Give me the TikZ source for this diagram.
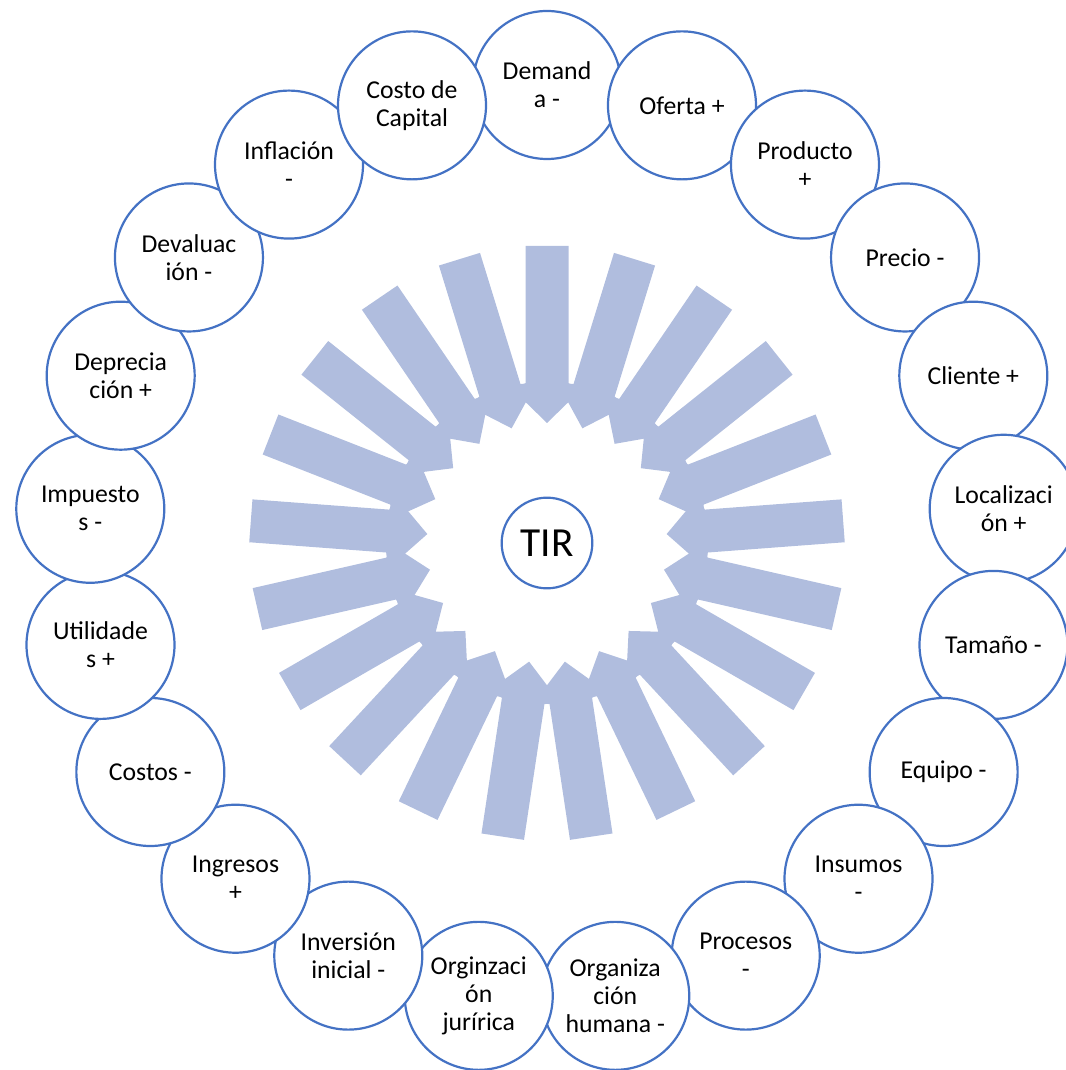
\documentclass[tikz,border=0pt]{standalone}
\usepackage{fontspec}
\setmainfont{Carlito}
\definecolor{ringblue}{RGB}{68,114,196}
\definecolor{arrowfill}{RGB}{176,189,222}
\begin{document}
\begin{tikzpicture}[x=0.75pt,y=0.75pt,
  factor/.style={circle,draw=ringblue,line width=1.65pt,fill=white,
    minimum size=111pt,inner sep=0pt,align=center,
    font=\fontsize{19.3}{21}\selectfont},
  core/.style={circle,draw=ringblue,line width=1.65pt,fill=white,
    minimum size=68pt,inner sep=0pt,font=\fontsize{31}{36}\selectfont},
  inarrow/.style={fill=arrowfill}]
\useasboundingbox (-547,-527) rectangle (519,543);
\clip (-547,-527) rectangle (519,543);
% converging block arrows, one per factor
\foreach \k in {0,...,20}{
  \fill[inarrow,rotate={-\k*360/21}]
    (-21.5,297) -- (21.5,297) -- (21.5,159) -- (40,159) -- (0,120)
    -- (-40,159) -- (-21.5,159) -- cycle;
}
% ring of factors, clockwise from the top
\def\R{458}
\node[factor] (f0)  at ({90-0*360/21}:\R)  {Demand\\a -};
\node[factor] (f1)  at ({90-1*360/21}:\R)  {Oferta +};
\node[factor] (f2)  at ({90-2*360/21}:\R)  {Producto\\+};
\node[factor] (f3)  at ({90-3*360/21}:\R)  {Precio -};
\node[factor] (f4)  at ({90-4*360/21}:\R)  {Cliente +};
\node[factor] (f5)  at ({90-5*360/21}:\R)  {Localizaci\\ón +};
\node[factor] (f6)  at ({90-6*360/21}:\R)  {Tamaño -};
\node[factor] (f7)  at ({90-7*360/21}:\R)  {Equipo -};
\node[factor] (f8)  at ({90-8*360/21}:\R)  {Insumos\\-};
\node[factor] (f9)  at ({90-9*360/21}:\R)  {Procesos\\-};
\node[factor] (f10) at ({90-10*360/21}:\R) {Organiza\\ción\\humana -};
\node[factor] (f11) at ({90-11*360/21}:\R) {Orginzaci\\ón\\jurírica};
\node[factor] (f12) at ({90-12*360/21}:\R) {Inversión\\inicial -};
\node[factor] (f13) at ({90-13*360/21}:\R) {Ingresos\\+};
\node[factor] (f14) at ({90-14*360/21}:\R) {Costos -};
\node[factor] (f15) at ({90-15*360/21}:\R) {Utilidade\\s +};
\node[factor] (f16) at ({90-16*360/21}:\R) {Impuesto\\s -};
\node[factor] (f17) at ({90-17*360/21}:\R) {Deprecia\\ción +};
\node[factor] (f18) at ({90-18*360/21}:\R) {Devaluac\\ión -};
\node[factor] (f19) at ({90-19*360/21}:\R) {Inflación\\-};
\node[factor] (f20) at ({90-20*360/21}:\R) {Costo de\\Capital};
% central result
\node[core] (tir) at (0,0) {TIR};
\end{tikzpicture}
\end{document}
